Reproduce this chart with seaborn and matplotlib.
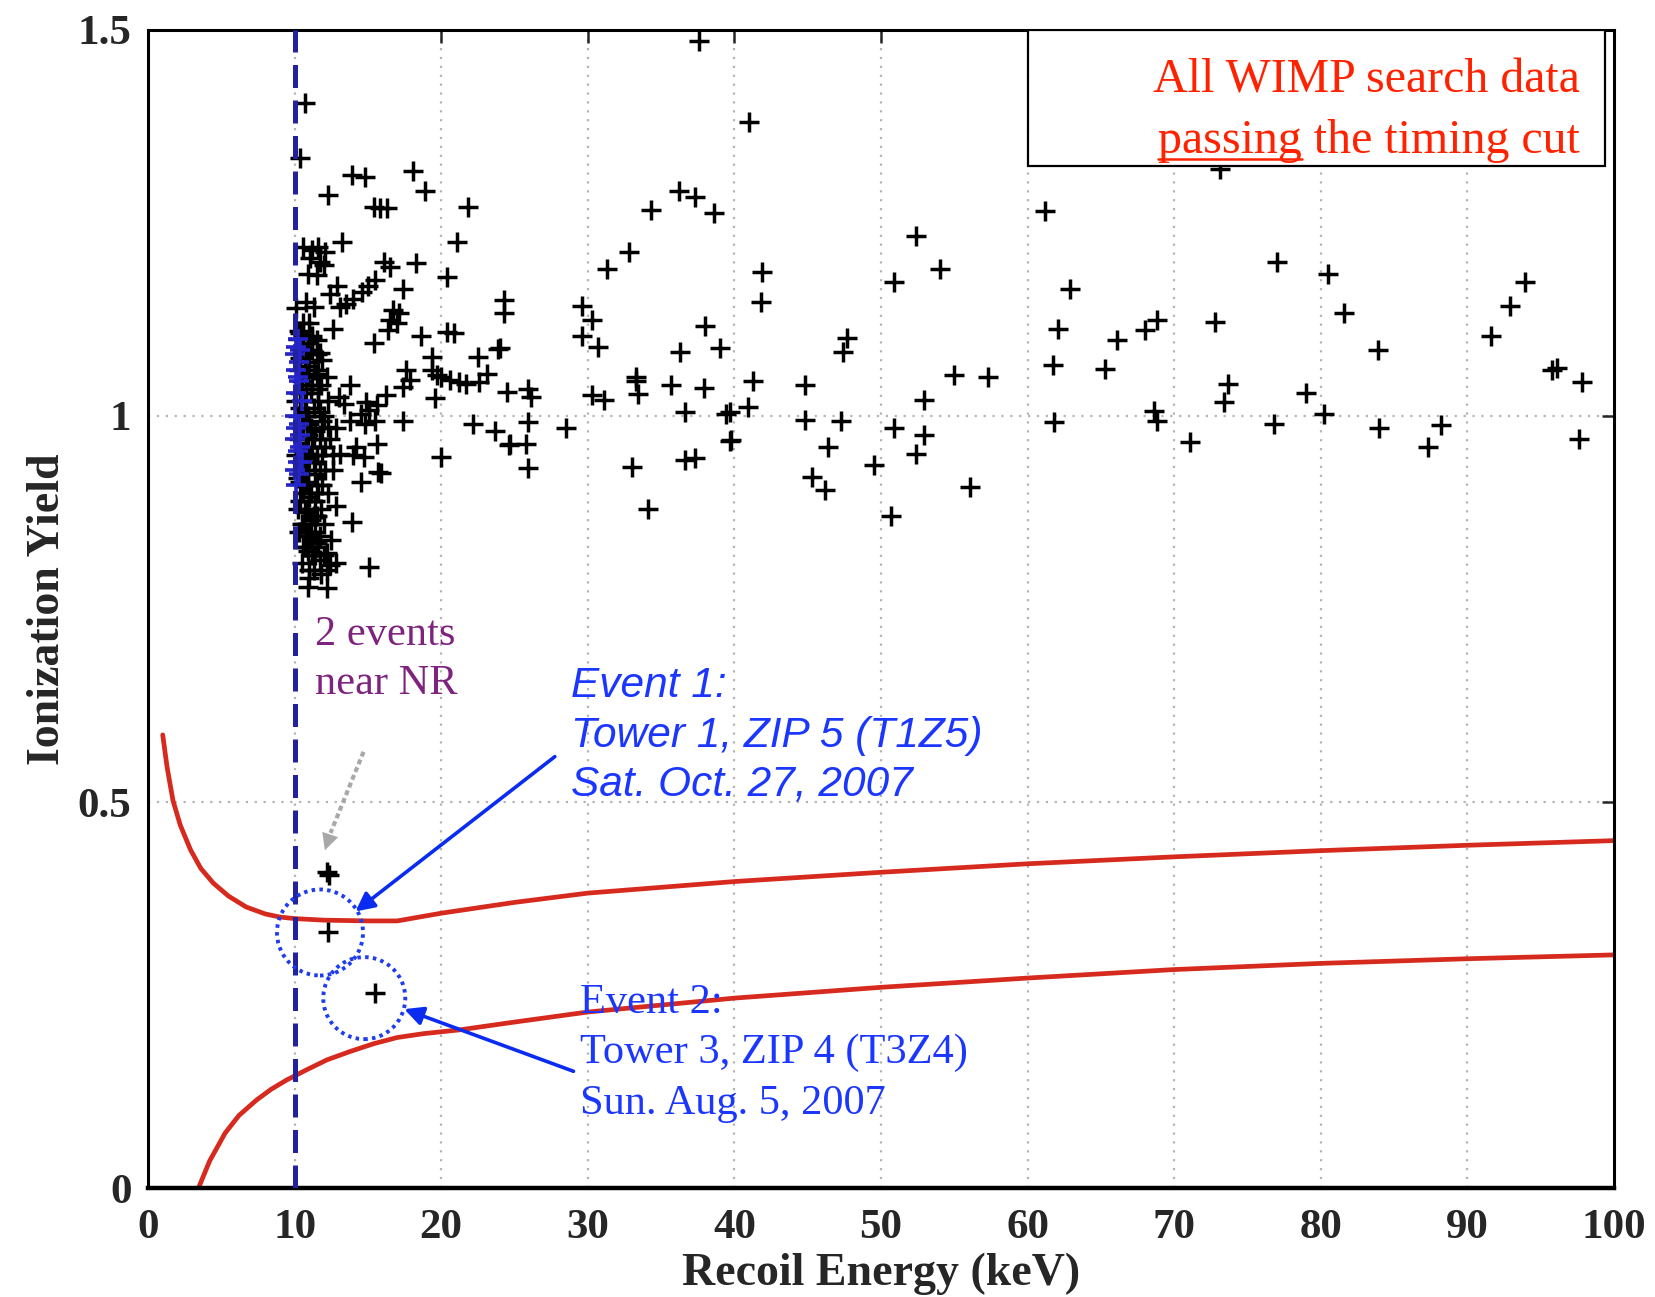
import numpy as np
import pandas as pd
import matplotlib
matplotlib.use("Agg")
import matplotlib.pyplot as plt
import seaborn as sns
from matplotlib.patches import Rectangle, Ellipse
from matplotlib.lines import Line2D

# ---------------- data ----------------
# scattered events (recoil energy keV, ionization yield)
energy_scatter = [
    10.7, 10.4, 37.6, 41.0, 13.9, 14.8, 18.1, 18.9, 12.3, 15.4, 15.8, 16.3, 21.8, 21.1, 13.2,
    10.6, 11.2, 11.6, 12.1, 11.05, 11.7, 12.0, 16.1, 16.5, 18.3, 20.4, 17.4, 10.9, 11.5, 12.9,
    12.4, 15.5, 15.0, 14.6, 14.0, 13.5, 13.1, 10.8, 11.3, 16.7, 17.1, 16.5, 17.0, 16.4, 12.6,
    15.4, 18.6, 20.4, 20.9, 24.3, 24.3, 23.9, 22.5, 10.4, 11.2, 11.5, 11.7, 11.85, 19.35, 19.35,
    19.7, 20.0, 20.6, 21.2, 21.7, 22.6, 23.1, 17.6, 17.9, 17.4, 19.6, 24.5, 25.9, 26.1, 13.8,
    13.0, 13.4, 14.9, 15.6, 16.2, 17.4, 22.2, 23.7, 24.6, 25.8, 25.9, 25.9, 13.8, 14.5, 14.8,
    15.5, 15.1, 11.85, 12.3, 12.8, 12.6, 13.1, 14.2, 14.7, 14.0, 15.6, 15.9, 15.7, 14.5, 20.0,
    12.8, 13.9, 15.1, 11.5, 12.2, 11.7, 12.4, 12.8, 10.9, 12.2, 10.6, 11.05, 24.7, 28.5, 24.0,
    36.2, 37.3, 34.3, 38.6, 32.8, 31.3, 41.9, 41.8, 52.4, 54.0, 50.9, 29.6, 30.3, 29.6, 30.7,
    38.0, 36.3, 39.0, 47.7, 47.4, 33.3, 33.3, 33.4, 35.7, 37.9, 41.3, 44.8, 55.0, 57.3, 52.9,
    30.3, 31.1, 36.6, 39.4, 39.7, 40.9, 44.8, 47.3, 50.9, 52.9, 52.4, 49.5, 46.4, 45.3, 46.2,
    56.1, 50.7, 39.8, 39.7, 36.6, 37.3, 33.0, 34.1,
    73.1, 61.2, 62.9, 62.05, 61.7, 61.8, 66.1, 65.3, 68.0, 68.8, 68.6, 68.8, 71.1, 72.8, 73.7,
    73.4, 77.0, 76.8, 79.0, 80.2, 80.5, 81.6, 83.9, 84.0, 87.3, 88.2, 91.6, 92.9, 93.9, 95.8,
    96.1, 97.8, 97.6,
]
yield_scatter = [
    1.405, 1.334, 1.486, 1.381, 1.312, 1.309, 1.317, 1.291, 1.286, 1.271, 1.269, 1.269, 1.271, 1.225, 1.225,
    1.219, 1.215, 1.219, 1.212, 1.204, 1.200, 1.195, 1.200, 1.193, 1.198, 1.180, 1.165, 1.184, 1.182, 1.169,
    1.158, 1.176, 1.169, 1.161, 1.152, 1.145, 1.141, 1.148, 1.141, 1.137, 1.133, 1.124, 1.120, 1.111, 1.113,
    1.094, 1.103, 1.109, 1.107, 1.150, 1.133, 1.087, 1.077, 1.107, 1.103, 1.098, 1.081, 1.072, 1.077, 1.059,
    1.053, 1.051, 1.046, 1.044, 1.042, 1.044, 1.055, 1.059, 1.046, 1.038, 1.023, 1.031, 1.035, 1.025, 1.040,
    1.025, 1.016, 1.018, 1.014, 1.027, 0.994, 0.990, 0.981, 0.962, 0.964, 0.992, 0.932, 0.994, 1.003, 0.990,
    0.994, 1.008, 0.994, 0.986, 0.984, 0.949, 0.951, 0.960, 0.947, 0.949, 0.964, 0.926, 0.928, 0.915, 0.947,
    0.884, 0.863, 0.805, 0.835, 0.822, 0.813, 0.807, 0.809, 0.779, 0.777, 0.830, 0.844, 0.964, 0.984, 1.088,
    1.291, 1.284, 1.267, 1.263, 1.212, 1.190, 1.187, 1.148, 1.233, 1.191, 1.174, 1.142, 1.124, 1.103, 1.090,
    1.116, 1.083, 1.088, 1.101, 1.083, 1.051, 1.045, 1.029, 1.040, 1.036, 1.045, 1.040, 1.053, 1.050, 1.021,
    1.027, 1.021, 1.005, 1.003, 1.005, 1.012, 0.995, 0.993, 0.984, 0.975, 0.951, 0.936, 0.960, 0.921, 0.904,
    0.908, 0.870, 0.969, 0.967, 0.943, 0.945, 0.934, 0.880,
    1.320, 1.266, 1.165, 1.113, 1.066, 0.992, 1.098, 1.061, 1.111, 1.124, 1.006, 0.993, 0.966, 1.122, 1.042,
    1.018, 1.199, 0.990, 1.030, 1.003, 1.184, 1.134, 1.086, 0.984, 0.960, 0.988, 1.104, 1.142, 1.173, 1.060,
    1.062, 1.044, 0.970,
]

# dense cluster just above threshold
energy_cluster = [
    10.2, 10.5, 10.8, 10.3, 10.9, 11.3, 10.4, 10.7, 11.1, 11.6, 10.2, 10.6, 11.0, 11.4, 10.3,
    10.8, 11.2, 11.7, 10.5, 10.9, 11.3, 10.2, 10.7, 11.1, 11.5, 10.4, 10.9, 11.3, 11.8, 10.6,
    11.0, 11.4, 10.8, 11.2, 11.6, 10.5, 11.0, 12.0, 12.3, 12.1, 11.9, 12.4, 12.0, 11.8, 12.2,
    11.5, 11.2, 10.6, 10.1, 11.0, 10.3, 10.2, 10.1, 10.1, 11.4, 12.5, 12.6, 12.2, 11.7, 10.9,
    10.3, 10.6, 10.9, 11.2, 10.4, 10.7, 11.0, 11.5, 10.5, 10.8, 11.2, 11.6, 10.4, 10.8, 11.3,
    11.7, 10.5, 10.9, 11.3, 10.6, 11.0, 11.5, 10.5, 10.9, 11.4, 10.6, 11.0, 11.6, 10.7, 11.1,
    11.5, 10.8, 11.2, 11.7, 10.9, 11.4, 11.3, 11.8, 11.0, 12.0, 11.9, 12.1, 11.9, 12.3, 10.7,
    11.1, 11.6, 10.5, 10.4,
]
yield_cluster = [
    1.10, 1.09, 1.08, 1.06, 1.05, 1.06, 1.03, 1.02, 1.03, 1.02, 1.00, 0.99, 0.99, 0.98, 0.97,
    0.96, 0.96, 0.97, 0.94, 0.93, 0.94, 0.92, 0.91, 0.90, 0.91, 0.89, 0.88, 0.87, 0.88, 0.86,
    0.85, 0.85, 0.83, 0.82, 0.83, 0.81, 0.80, 0.86, 0.90, 0.93, 0.95, 0.97, 1.00, 1.04, 1.05,
    1.08, 1.10, 1.12, 1.14, 1.12, 0.85, 0.88, 0.95, 1.02, 0.89, 0.84, 0.93, 0.80, 0.93, 1.00,
    1.11, 1.105, 1.095, 1.085, 1.075, 1.065, 1.07, 1.055, 1.045, 1.035, 1.04, 1.035, 1.01, 1.005, 1.01,
    1.005, 0.985, 0.975, 0.97, 0.955, 0.945, 0.95, 0.925, 0.915, 0.925, 0.90, 0.895, 0.90, 0.875, 0.865,
    0.87, 0.85, 0.84, 0.845, 0.825, 0.82, 0.80, 0.795, 0.79, 0.82, 0.91, 0.96, 0.985, 1.02, 0.94,
    0.985, 1.06, 0.86, 0.915,
]
# blue-marked events at threshold
energy_blue = [10.0, 10.2, 10.1, 10.3, 10.0, 10.2, 10.1, 10.3, 10.0, 10.4, 10.2, 10.0,
               10.1, 10.4, 10.3, 10.5, 10.1, 10.4, 10.2, 10.5, 10.3, 10.1]
yield_blue = [1.08, 1.05, 1.03, 0.99, 0.97, 0.94, 0.91, 1.07, 1.00, 0.96, 1.10, 0.93,
              1.09, 1.085, 1.045, 1.02, 0.985, 0.975, 0.955, 0.94, 0.925, 1.06]

# low-yield events
energy_nr = [12.2, 12.35]          # "2 events near NR"
yield_nr = [0.410, 0.405]
energy_events = [12.25, 15.5]      # Event 1, Event 2
yield_events = [0.332, 0.253]

# nuclear-recoil band boundaries
band_upper_E = [1.0, 1.3, 1.7, 2.2, 2.9, 3.6, 4.45, 5.5, 6.7, 8.0, 9.0, 10, 12, 15, 17, 20, 25, 30,
                40, 50, 60, 70, 80, 90, 100]
band_upper_Y = [0.587, 0.545, 0.502, 0.470, 0.438, 0.414, 0.395, 0.378, 0.364, 0.355, 0.351, 0.349,
                0.347, 0.346, 0.346, 0.356, 0.370, 0.382, 0.397, 0.409, 0.420, 0.429, 0.437, 0.444, 0.450]
band_lower_E = [3.44, 4.2, 5.25, 6.2, 7.4, 8.4, 9.46, 10.8, 12.2, 13.8, 15.4, 17, 18.8, 21.3, 25, 30,
                40, 50, 60, 70, 80, 90, 100]
band_lower_Y = [0.0, 0.035, 0.071, 0.094, 0.114, 0.128, 0.140, 0.153, 0.166, 0.177, 0.187, 0.195,
                0.200, 0.205, 0.215, 0.228, 0.246, 0.260, 0.272, 0.283, 0.291, 0.297, 0.302]

THRESHOLD_KEV = 10
x_ticks = [0, 10, 20, 30, 40, 50, 60, 70, 80, 90, 100]
y_ticks = [0, 0.5, 1, 1.5]
y_tick_labels = ["0", "0.5", "1", "1.5"]

# ---------------- style ----------------
sns.set_style("white")
plt.rcParams["font.family"] = ["Liberation Serif", "DejaVu Serif"]

RED = "#d62a1e"
BLUE_TXT = "#1a36ff"
DARKBLUE = "#22229e"
PURPLE = "#7e237e"

fig = plt.figure(figsize=(16.56, 12.97), dpi=100)
ax = fig.add_axes([0.0894, 0.0840, 0.8852, 0.8929])

# grid
for xv in x_ticks[1:-1]:
    ax.axvline(xv, color="#b4b4b4", lw=1.6, ls=(0, (1, 3)), zorder=0)
for yv in y_ticks[1:-1]:
    ax.axhline(yv, color="#b4b4b4", lw=1.6, ls=(0, (1, 3)), zorder=0)

# band curves
sns.lineplot(x=band_upper_E, y=band_upper_Y, color=RED, lw=3.4, sort=False, estimator=None, ax=ax, zorder=2)
sns.lineplot(x=band_lower_E, y=band_lower_Y, color=RED, lw=3.4, sort=False, estimator=None, ax=ax, zorder=2)

# points
df_black = pd.DataFrame({"E": energy_scatter + energy_cluster + energy_nr + energy_events,
                         "Y": yield_scatter + yield_cluster + yield_nr + yield_events})
sns.scatterplot(data=df_black, x="E", y="Y", marker="+", color="black", s=200, linewidth=2.5, ax=ax, zorder=3)
df_blue = pd.DataFrame({"E": energy_blue, "Y": yield_blue})
sns.scatterplot(data=df_blue, x="E", y="Y", marker="+", color="#2424c8", s=200, linewidth=2.6, ax=ax, zorder=3.5)

# threshold line
ax.axvline(THRESHOLD_KEV, color=DARKBLUE, lw=3.6, ls=(0, (4.6, 2.5)), zorder=4)

ax.set_xlim(0, 100)
ax.set_ylim(0, 1.5)
ax.set_xticks(x_ticks)
ax.set_yticks(y_ticks)
ax.set_yticklabels(y_tick_labels)
ax.tick_params(direction="in", length=9, width=1.8, top=True, right=True,
               labelsize=31, pad=12)
ax.tick_params(axis="x", pad=15)
for lab in ax.get_xticklabels() + ax.get_yticklabels():
    lab.set_fontweight("bold")
for sp in ax.spines.values():
    sp.set_linewidth(2.2)
    sp.set_color("black")
ax.spines["bottom"].set_linewidth(3.2)
ax.set_xlabel("Recoil Energy (keV)", fontsize=33, fontweight="bold", labelpad=4)
ax.set_ylabel("Ionization Yield", fontsize=33, fontweight="bold", labelpad=6)

# legend-like box
ax.add_patch(Rectangle((0.600, 0.8826), 0.394, 0.1174, transform=ax.transAxes,
                       facecolor="white", edgecolor="black", lw=1.6, zorder=6))
ax.text(0.977, 0.946, "All WIMP search data", transform=ax.transAxes, ha="right", va="baseline",
        color="#ff2200", fontsize=34.5, zorder=7)
t2 = ax.text(0.977, 0.894, "passing the timing cut", transform=ax.transAxes, ha="right", va="baseline",
             color="#ff2200", fontsize=34.5, zorder=7)

# annotations
ax.text(11.4, 0.685, "2 events\nnear NR", color=PURPLE, fontsize=30.5, ha="left", va="center",
        linespacing=1.36)
ax.text(28.85, 0.586, "Event 1:\nTower 1, ZIP 5 (T1Z5)\nSat. Oct. 27, 2007", color=BLUE_TXT,
        fontsize=30.5, style="italic", family=["Liberation Sans", "DejaVu Sans"], ha="left", va="center",
        linespacing=1.3)
ax.text(29.5, 0.175, "Event 2:\nTower 3, ZIP 4 (T3Z4)\nSun. Aug. 5, 2007", color=BLUE_TXT,
        fontsize=30.5, ha="left", va="center", linespacing=1.41)

# arrows
ax.annotate("", xy=(14.0, 0.356), xytext=(27.9, 0.561),
            arrowprops=dict(arrowstyle="-|>", color="#0a2cf0", lw=2.6, mutation_scale=28))
ax.annotate("", xy=(17.3, 0.233), xytext=(29.2, 0.150),
            arrowprops=dict(arrowstyle="-|>", color="#0a2cf0", lw=2.6, mutation_scale=28))
ax.plot([14.7, 12.45], [0.565, 0.460], color="#a8a8a8", lw=3, ls=(0, (1.2, 0.8)), zorder=5)
ax.annotate("", xy=(12.0, 0.434), xytext=(12.5, 0.462),
            arrowprops=dict(arrowstyle="-|>", color="#a8a8a8", lw=0, mutation_scale=30))

# dotted circles around events
for (cx, cy, r) in [(11.73, 0.331, 43), (14.75, 0.246, 41)]:
    ax.add_patch(Ellipse((cx, cy), width=2 * r / 14.66, height=2 * r / 772.0,
                         fill=False, edgecolor="#1e3cf0", lw=2.8, ls=(0, (0.9, 1.1)), zorder=5))

# underline "passing"
fig.canvas.draw()
rend = fig.canvas.get_renderer()
bb = t2.get_window_extent(rend)
tmp = ax.text(0, 0, "passing", fontsize=34.5, transform=ax.transAxes)
wpass = tmp.get_window_extent(rend).width
tmp.remove()
inv = ax.transAxes.inverted()
x0, y0 = inv.transform((bb.x0, bb.y0 + 4))
x1, _ = inv.transform((bb.x0 + wpass, bb.y0 + 4))
ax.add_line(Line2D([x0, x1], [y0, y0], transform=ax.transAxes, color="#ff2200", lw=1.8, zorder=7))

fig.savefig("out.png", dpi=100)
